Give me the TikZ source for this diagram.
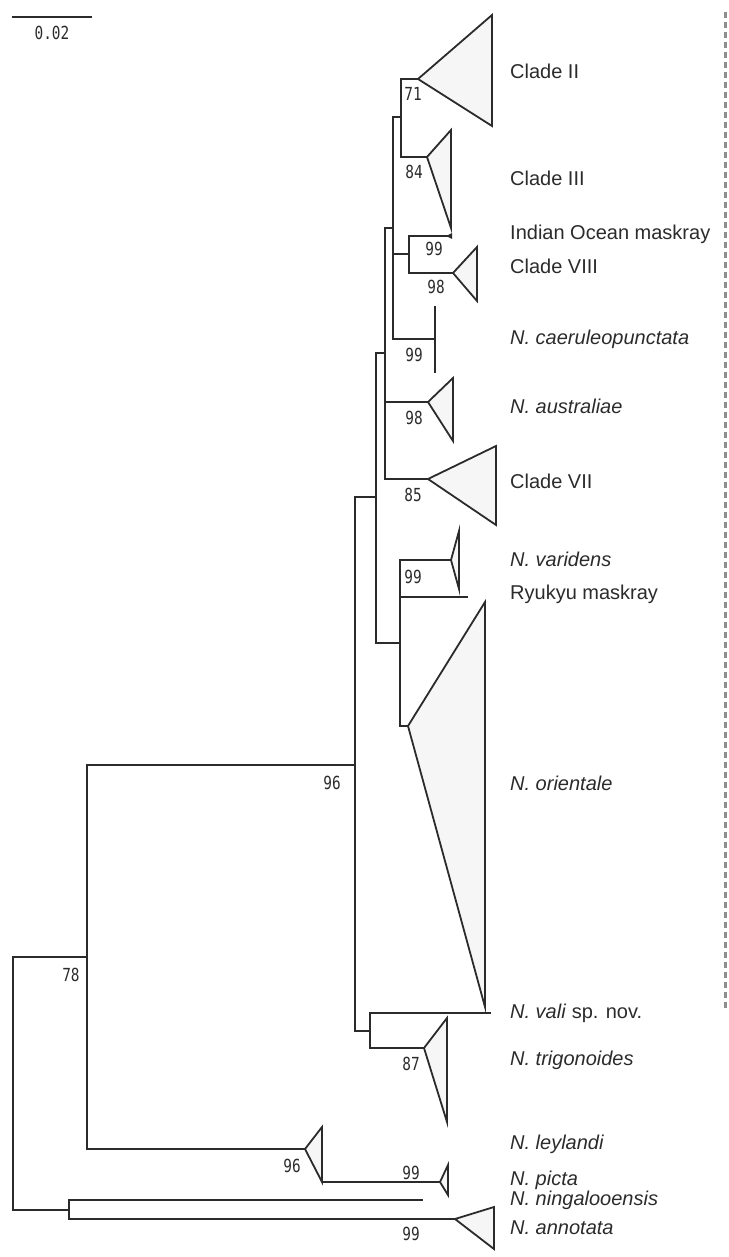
\documentclass[tikz,border=0pt]{standalone}
\usepackage{fontspec}
\setmainfont{Liberation Sans}
\newfontfamily\bootfont[FakeStretch=0.8]{DejaVu Sans Mono}
\definecolor{line1}{HTML}{2B2B2B}
\definecolor{fill1}{HTML}{F6F6F6}
\definecolor{dash1}{HTML}{8E8E8E}
\tikzset{
  branch/.style={draw=line1,line width=1.8pt},
  clade/.style={draw=line1,fill=fill1,line width=1.8pt,line join=miter},
  taxon/.style={anchor=west,inner sep=0pt,text=line1,font=\fontsize{20}{24}\selectfont,text height=14pt,text depth=0pt},
  boot/.style={inner sep=0pt,text=line1,font=\bootfont\fontsize{18}{20}\selectfont,text height=13pt,text depth=0pt},
}
\begin{document}
\begin{tikzpicture}[x=1pt,y=-1pt]
\useasboundingbox (0,0) rectangle (728,1257);
% scale bar
\coordinate (sbl) at (12,17);
\coordinate (sbr) at (92,17);
\draw[branch] (sbl) -- (sbr);
\node[boot] (sblab) at (52,33) {0.02};
%
% internal nodes
\coordinate (root) at (13,1083);
\coordinate (n78) at (87,957);
\coordinate (nning) at (69,1210);
\coordinate (nbig) at (355,765);
\coordinate (nB) at (376,497);
\coordinate (nC) at (385,353);
\coordinate (nD) at (393,228);
\coordinate (nF) at (401,117);
\coordinate (nE) at (409,254);
\coordinate (nO) at (400,643);
\coordinate (nV) at (370,1031);
% tips and clade apices
\coordinate (c2) at (418,79);
\coordinate (c3) at (427,157);
\coordinate (io) at (452,236);
\coordinate (c8) at (453,273);
\coordinate (caer) at (435,339);
\coordinate (aus) at (428,402);
\coordinate (c7) at (428,479);
\coordinate (var) at (451,560);
\coordinate (ryu) at (468,597);
\coordinate (ori) at (408,726);
\coordinate (vali) at (491,1013);
\coordinate (tri) at (424,1048);
\coordinate (ley) at (305,1149);
\coordinate (leyb) at (322,1182);
\coordinate (pic) at (440,1182);
\coordinate (ning) at (423,1200);
\coordinate (ann) at (455,1219);
%
% branches
\draw[branch] (root) |- (n78);
\draw[branch] (root) |- (nning);
\draw[branch] (n78) |- (nbig);
\draw[branch] (n78) |- (ley);
\draw[branch] (nning) |- (ning);
\draw[branch] (nning) |- (ann);
\draw[branch] (nbig) |- (nB);
\draw[branch] (nbig) |- (nV);
\draw[branch] (nB) |- (nC);
\draw[branch] (nB) |- (nO);
\draw[branch] (nC) |- (nD);
\draw[branch] (nC) |- (aus);
\draw[branch] (nC) |- (c7);
\draw[branch] (nD) |- (nF);
\draw[branch] (nD) |- (nE);
\draw[branch] (nD) |- (caer);
\draw[branch] (nF) |- (c2);
\draw[branch] (nF) |- (c3);
\draw[branch] (nE) |- (io);
\draw[branch] (nE) |- (c8);
\draw[branch] (nO) |- (var);
\draw[branch] (nO) |- (ryu);
\draw[branch] (nO) |- (ori);
\draw[branch] (nV) |- (vali);
\draw[branch] (nV) |- (tri);
\draw[branch] (leyb) -- (pic);
%
% collapsed clades
\draw[clade] (c2) -- (492,15) -- (492,126) -- cycle;
\draw[clade] (c3) -- (451,130) -- (451,228) -- cycle;
\draw[clade] (c8) -- (477,247) -- (477,301) -- cycle;
\draw[clade] (aus) -- (453,378) -- (453,441) -- cycle;
\draw[clade] (c7) -- (496,446) -- (496,525) -- cycle;
\draw[clade] (var) -- (459,531) -- (459,589) -- cycle;
\draw[clade] (ori) -- (485,602) -- (485,1007) -- cycle;
\draw[clade] (tri) -- (447,1018) -- (447,1122) -- cycle;
\draw[clade] (ley) -- (322,1127) -- (leyb) -- cycle;
\draw[clade] (pic) -- (448,1165) -- (448,1195) -- cycle;
\draw[clade] (ann) -- (494,1207) -- (494,1249) -- cycle;
\fill[line1] (446,236) -- (452,233) -- (452,239) -- cycle;
\draw[branch] (435,306) -- (435,373);
%
% bootstrap values
\node[boot] (b71) at (413,94) {71};
\node[boot] (b84) at (414,172) {84};
\node[boot] (b99io) at (434,249) {99};
\node[boot] (b98c8) at (436,287) {98};
\node[boot] (b99cae) at (414,355) {99};
\node[boot] (b98aus) at (414,418) {98};
\node[boot] (b85) at (413,495) {85};
\node[boot] (b99var) at (413,577) {99};
\node[boot] (b96big) at (332,783) {96};
\node[boot] (b87) at (411,1064) {87};
\node[boot] (b78) at (71,975) {78};
\node[boot] (b96ley) at (292,1166) {96};
\node[boot] (b99pic) at (411,1173) {99};
\node[boot] (b99ann) at (411,1234) {99};
%
% taxon labels
\node[taxon] (lc2) at (510,72) {Clade II};
\node[taxon] (lc3) at (510,179) {Clade III};
\node[taxon] (lio) at (510,233) {Indian Ocean maskray};
\node[taxon] (lc8) at (510,266) {Clade VIII};
\node[taxon] (lcae) at (510,337) {\textit{N. caeruleopunctata}};
\node[taxon] (laus) at (510,406) {\textit{N. australiae}};
\node[taxon] (lc7) at (510,481) {Clade VII};
\node[taxon] (lvar) at (510,559) {\textit{N. varidens}};
\node[taxon] (lryu) at (510,592) {Ryukyu maskray};
\node[taxon] (lori) at (510,783) {\textit{N. orientale}};
\node[taxon] (lvali) at (510,1011) {\textit{N. vali} sp. nov.};
\node[taxon] (ltri) at (510,1058) {\textit{N. trigonoides}};
\node[taxon] (lley) at (510,1142) {\textit{N. leylandi}};
\node[taxon] (lpic) at (510,1178) {\textit{N. picta}};
\node[taxon] (lning) at (510,1198) {\textit{N. ningalooensis}};
\node[taxon] (lann) at (510,1227) {\textit{N. annotata}};
%
% dashed divider
\coordinate (dtop) at (725,12);
\coordinate (dbot) at (725,1008);
\draw[dash1,line width=3pt,dash pattern=on 6pt off 4pt] (dtop) -- (dbot);
\end{tikzpicture}
\end{document}
